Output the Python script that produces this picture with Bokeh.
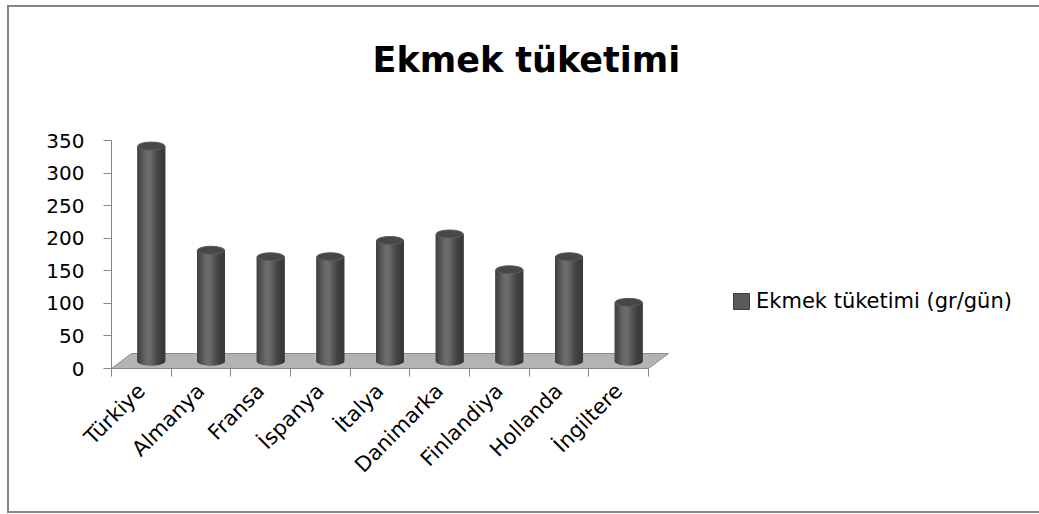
import math
from bokeh.plotting import figure
from bokeh.models import (Range1d, FixedTicker, LinearAxis, ColumnDataSource,
                          Legend, LegendItem)
from bokeh.embed import file_html
from bokeh.resources import INLINE

# ---------------- data ----------------
countries = ["Türkiye", "Almanya", "Fransa", "İspanya", "İtalya",
             "Danimarka", "Finlandiya", "Hollanda", "İngiltere"]
values = [330, 170, 160, 160, 185, 195, 140, 160, 90]
y_ticks = [0, 50, 100, 150, 200, 250, 300, 350]
title_text = "Ekmek tüketimi"
series_name = "Ekmek tüketimi (gr/gün)"

# ---------------- layout ----------------
W, H = 1039, 514
LEFT, RIGHT, TOP, BOTTOM = 111, 9, 100, 146
frame_w = W - LEFT - RIGHT
frame_h = H - TOP - BOTTOM
cat_px = 59.67
y_per_px = 350 / 228.0
x_end = frame_w / cat_px
y_end = frame_h * y_per_px

FONT = "DejaVu Sans"
AX = "#868686"

p = figure(width=W, height=H, x_range=Range1d(0, x_end), y_range=Range1d(0, y_end),
           output_backend="svg", toolbar_location=None,
           x_axis_type=None, y_axis_type=None,
           min_border_left=LEFT, min_border_right=RIGHT,
           min_border_top=TOP, min_border_bottom=BOTTOM,
           title=title_text)
p.outline_line_color = None
p.background_fill_color = "white"
p.border_fill_color = None
g = "linear-gradient(%s,%s)" % (AX, AX)
p.styles = {
    "background": (g + " 7px 5px / 2px 508px no-repeat, "
                   + g + " 7px 5px / 1040px 2px no-repeat, "
                   + g + " 7px 511px / 1040px 2px no-repeat, white")
}

p.title.text_font = FONT
p.title.text_font_style = "bold"
p.title.text_font_size = "35px"
p.title.text_color = "black"
p.title.align = "left"
p.title.offset = 261
p.title.standoff = 41

n = len(countries)
centers = [i + 0.5 for i in range(n)]

# y axis
yaxis = LinearAxis(ticker=FixedTicker(ticks=y_ticks), bounds=(0, 350),
                   axis_line_color=AX, major_tick_line_color=AX,
                   major_tick_out=8, major_tick_in=0, minor_tick_line_color=None,
                   major_label_text_font=FONT, major_label_text_font_size="20px",
                   major_label_text_color="black", major_label_standoff=19)
p.add_layout(yaxis, "left")

# x axis (labels at centres, ticks at category boundaries)
xaxis = LinearAxis(ticker=FixedTicker(ticks=centers, minor_ticks=list(range(n + 1))),
                   major_label_overrides={c: name for c, name in zip(centers, countries)},
                   bounds=(0, n), axis_line_color=AX,
                   major_tick_line_color=None, major_tick_out=0, major_tick_in=0,
                   minor_tick_line_color=AX, minor_tick_out=8, minor_tick_in=0,
                   major_label_orientation=math.pi / 4,
                   major_label_text_font=FONT, major_label_text_font_size="21px",
                   major_label_text_color="black", major_label_standoff=11)
p.add_layout(xaxis, "below")

# floor
depth_dx = 20 / cat_px
depth_dy = 15 * y_per_px
p.patch([0, n, n + depth_dx, depth_dx], [0, 0, depth_dy, depth_dy],
        fill_color="#b3b3b3", line_color="#8c8c8c", line_width=1)

# cylinders
cyl_w = 27 / cat_px
ell_h = 8 * y_per_px
base = depth_dy / 2
cx = [c + depth_dx / 2 for c in centers]
tops = [base + v for v in values]

src = ColumnDataSource(dict(x=cx, top=tops, bottom=[base] * n, val=values))
p.ellipse(x="x", y="bottom", width=cyl_w, height=ell_h, source=src,
          fill_color="#484848", line_color="#3c3c3c")
body = p.vbar(x="x", top="top", bottom="bottom", width=cyl_w, source=src,
              fill_color="#5a5a5a", line_color="#3c3c3c")

K = 15
sl, sr, sb, st, sc = [], [], [], [], []
for x0, t in zip(cx, tops):
    for k in range(K):
        tt = (k + 0.5) / K
        u = -cyl_w / 2 + tt * cyl_w
        gv = int(58 + 52 * math.exp(-((tt - 0.4) / 0.3) ** 2))
        col = "#%02x%02x%02x" % (gv, gv, gv)
        sl.append(x0 + u - cyl_w / (2 * K))
        sr.append(x0 + u + cyl_w / (2 * K))
        sb.append(base - (ell_h / 2) * math.sqrt(max(0.0, 1 - (2 * u / cyl_w) ** 2)))
        st.append(t)
        sc.append(col)
p.quad(left=sl, right=sr, bottom=sb, top=st, fill_color=sc, line_color=sc, line_width=0.6)

p.ellipse(x="x", y="top", width=cyl_w, height=ell_h, source=src,
          fill_color="#474747", line_color="#5c5c5c", line_width=1)

legend = Legend(items=[LegendItem(label=series_name, renderers=[body])],
                location=(620, 55), border_line_color=None, background_fill_alpha=0,
                padding=0, margin=0, glyph_width=20, glyph_height=20, label_standoff=5,
                label_text_font=FONT, label_text_font_size="21px", label_text_color="black")
p.add_layout(legend)

open("out.html", "w").write(file_html(p, INLINE))
